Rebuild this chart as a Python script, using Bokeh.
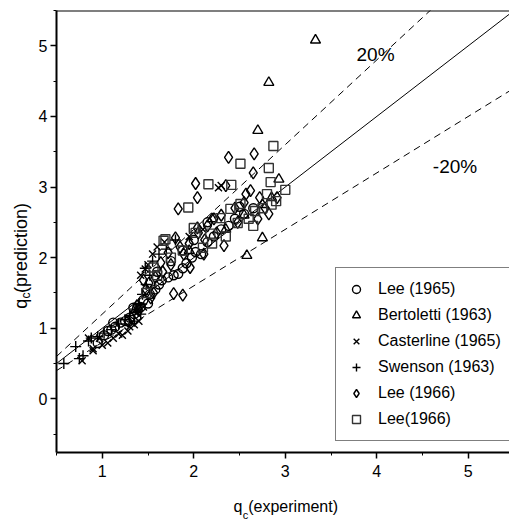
import math
import numpy as np
from bokeh.plotting import figure
from bokeh.layouts import row, column
from bokeh.models import Label, Span, Legend, LegendItem, SingleIntervalTicker, Range1d
from bokeh.embed import file_html
from bokeh.resources import INLINE

# ---- data ----
lee1965_x = [0.95, 1.02, 1.06, 1.10, 1.14, 1.20, 1.25, 1.30, 1.35, 1.38, 1.42, 1.45, 1.50, 1.52, 1.58,
             1.62, 1.65, 1.72, 1.78, 1.83, 1.88, 1.92, 1.98, 2.02, 2.08, 2.15, 2.22, 2.30, 2.38, 2.45,
             2.55, 2.65, 1.75, 1.60, 2.00, 1.88, 2.15, 2.50, 1.34, 1.12]
lee1965_y = [0.79, 0.90, 0.96, 0.98, 1.02, 1.08, 1.10, 1.15, 1.20, 1.28, 1.30, 1.40, 1.35, 1.48, 1.55,
             1.62, 1.68, 1.72, 1.75, 1.77, 1.85, 1.92, 2.00, 2.08, 2.05, 2.22, 2.30, 2.40, 2.45, 2.55,
             2.62, 2.70, 1.95, 1.80, 2.25, 2.10, 2.50, 2.72, 1.29, 1.08]

bert_x = [3.33, 2.82, 2.70, 2.93, 2.75, 2.58, 2.75, 2.55, 2.85, 2.35, 2.20, 1.95]
bert_y = [5.08, 4.48, 3.80, 3.11, 2.28, 2.03, 2.75, 2.60, 2.85, 2.40, 2.55, 2.10]

cast_x = [0.78, 0.90, 0.90, 1.00, 1.06, 1.12, 1.18, 1.22, 1.28, 1.35, 1.40, 1.38, 1.45, 1.47, 1.42,
          1.50, 1.55, 1.60, 1.68, 2.27, 2.30, 1.95, 2.10, 1.30, 0.97, 0.85]
cast_y = [0.54, 0.71, 0.68, 0.76, 0.79, 0.86, 0.92, 0.90, 0.96, 1.05, 1.10, 1.22, 1.30, 1.84, 1.75,
          1.90, 2.05, 2.15, 2.22, 2.99, 3.02, 2.30, 2.40, 1.02, 0.86, 0.86]

swen_x = [0.58, 0.71, 0.75, 0.79, 0.85, 0.88, 0.95, 1.02, 1.10, 1.18, 1.25, 1.30, 1.36, 1.40, 1.44,
          1.48, 1.52, 1.47, 1.55, 1.62, 1.70, 1.80, 1.35, 1.42]
swen_y = [0.50, 0.74, 0.57, 0.61, 0.82, 0.86, 0.88, 0.93, 0.98, 1.06, 1.12, 1.18, 1.27, 1.35, 1.48,
          1.62, 1.75, 1.85, 1.95, 2.05, 2.12, 2.25, 1.10, 1.20]

lee1966a_x = [2.02, 2.04, 1.83, 2.38, 2.35, 2.66, 2.65, 2.57, 2.91, 2.33, 2.11, 1.78, 1.88, 2.04, 1.80,
              1.89, 1.72, 1.64, 1.96, 1.51, 1.56, 1.53, 1.48, 1.45, 1.58, 1.66, 1.75, 1.85, 1.95, 2.05,
              2.15, 2.22, 2.30, 2.45, 2.55, 2.62, 2.72, 2.78, 2.82, 2.48, 2.25, 2.12, 1.40, 1.38, 1.32,
              1.28, 2.70]
lee1966a_y = [3.05, 2.85, 2.69, 3.42, 3.02, 3.47, 3.20, 2.90, 2.85, 2.17, 2.05, 1.49, 1.47, 2.42, 2.28,
              2.05, 2.07, 1.93, 1.86, 1.64, 1.50, 1.43, 1.55, 1.68, 1.72, 1.80, 1.90, 2.15, 2.20, 2.35,
              2.45, 2.55, 2.60, 2.70, 2.78, 2.95, 2.85, 2.70, 2.62, 2.50, 2.35, 2.25, 1.25, 1.32, 1.15,
              1.10, 2.55]

lee1966b_x = [2.16, 1.94, 2.87, 2.51, 2.82, 2.41, 3.00, 2.84, 2.80, 2.51, 2.40, 2.67, 2.48, 2.29, 1.69,
              2.02, 2.10, 1.67, 2.00, 2.18, 1.88, 1.56, 2.60, 2.75, 2.90, 2.35, 2.20, 1.75, 1.60, 2.65,
              1.48, 2.85]
lee1966b_y = [3.04, 2.71, 3.58, 3.33, 3.27, 3.03, 2.96, 3.07, 2.90, 2.76, 2.69, 2.66, 2.49, 2.56, 2.26,
              2.35, 2.14, 2.24, 2.42, 2.34, 2.10, 1.86, 2.55, 2.70, 2.80, 2.30, 2.20, 2.00, 1.75, 2.45,
              1.50, 2.75]

ref_x = np.array([0.5, 5.5])
ref_factors = [1.0, 1.2, 0.8]

series = [
    ("Lee (1965)", lee1965_x, lee1965_y, "circle", 9),
    ("Bertoletti (1963)", bert_x, bert_y, "triangle", 10),
    ("Casterline (1965)", cast_x, cast_y, "x", 10),
    ("Swenson (1963)", swen_x, swen_y, "cross", 11),
    ("Lee (1966)", lee1966a_x, lee1966a_y, "diamond", 12),
    ("Lee(1966)", lee1966b_x, lee1966b_y, "square", 9),
]

FONT = "Liberation Sans"
YW = 32  # width of the y-title strip
XR = Range1d(0.5, 5.45)
YR = Range1d(-0.76, 5.5)

# ---- main plot ----
p = figure(width=509 - YW, height=488, x_range=XR, y_range=YR,
           output_backend="svg", toolbar_location=None,
           min_border_left=56 - YW, min_border_right=0, min_border_top=10, min_border_bottom=36)
p.grid.visible = False
p.outline_line_color = None
p.background_fill_color = "white"

for ax in (p.xaxis[0], p.yaxis[0]):
    ax.ticker = SingleIntervalTicker(interval=1, num_minor_ticks=2)
    ax.axis_line_width = 2
    ax.axis_line_color = "black"
    ax.major_tick_in = 0
    ax.major_tick_out = 6
    ax.minor_tick_in = 0
    ax.minor_tick_out = 3
    ax.major_tick_line_width = 1.5
    ax.minor_tick_line_width = 1
    ax.major_label_text_font = FONT
    ax.major_label_text_font_size = "16px"
    ax.major_label_text_color = "black"
p.xaxis.major_label_standoff = 6
p.yaxis.major_label_standoff = 3

p.add_layout(Span(location=5.5, dimension="width", line_color="black", line_width=2))

# reference lines
p.line(ref_x, ref_x * ref_factors[0], line_color="black", line_width=1)
p.line(ref_x, ref_x * ref_factors[1], line_color="black", line_width=1, line_dash="7 5")
p.line(ref_x, ref_x * ref_factors[2], line_color="black", line_width=1, line_dash="7 5")

items = []
for name, xs, ys, marker, size in series:
    color = "#333333" if marker == "square" else "black"
    r = p.scatter(xs, ys, marker=marker, size=size, fill_color=None,
                  line_color=color, line_width=1.4)
    items.append(LegendItem(label=name, renderers=[r]))

legend = Legend(items=items, location=(279, 11), border_line_color="black", border_line_width=1,
                background_fill_color="white", background_fill_alpha=1.0,
                label_text_font=FONT, label_text_font_size="16px", label_text_color="black",
                padding=10, spacing=4, glyph_height=22, label_height=22, glyph_width=20,
                label_standoff=12, margin=0)
p.add_layout(legend)

# percent annotations
p.add_layout(Label(x=3.986, y=4.88, text="20%", text_align="center", text_baseline="middle",
                   text_font=FONT, text_font_size="19px", text_color="black"))
p.add_layout(Label(x=4.855, y=3.286, text="-20%", text_align="center", text_baseline="middle",
                   text_font=FONT, text_font_size="19px", text_color="black"))

# ---- x axis title strip: q_c(experiment) ----
xt = figure(width=509 - YW, height=34, x_range=XR, y_range=(0, 1), output_backend="svg",
            toolbar_location=None, x_axis_location=None, y_axis_location=None,
            min_border_left=56 - YW, min_border_right=0, min_border_top=0, min_border_bottom=0)
xt.grid.visible = False
xt.outline_line_color = None
xt.add_layout(Label(x=2.434, y=0.47, text="q", text_align="left", text_baseline="alphabetic",
                    text_font=FONT, text_font_size="16px", text_color="black"))
xt.add_layout(Label(x=2.535, y=0.22, text="c", text_align="left", text_baseline="alphabetic",
                    text_font=FONT, text_font_size="11px", text_color="black"))
xt.add_layout(Label(x=2.595, y=0.47, text="(experiment)", text_align="left", text_baseline="alphabetic",
                    text_font=FONT, text_font_size="16px", text_color="black"))

# ---- y axis title strip: q_c(prediction) ----
yt = figure(width=YW, height=522, x_range=(0, YW), y_range=YR, output_backend="svg",
            toolbar_location=None, x_axis_location=None, y_axis_location=None,
            min_border_left=0, min_border_right=0, min_border_top=10, min_border_bottom=70)
yt.grid.visible = False
yt.outline_line_color = None
yt.add_layout(Label(x=20, y=1.275, text="q", angle=math.pi / 2, text_align="left",
                    text_baseline="alphabetic", text_font=FONT, text_font_size="18px", text_color="black"))
yt.add_layout(Label(x=25, y=1.42, text="c", angle=math.pi / 2, text_align="left",
                    text_baseline="alphabetic", text_font=FONT, text_font_size="12px", text_color="black"))
yt.add_layout(Label(x=20, y=1.50, text="(prediction)", angle=math.pi / 2, text_align="left",
                    text_baseline="alphabetic", text_font=FONT, text_font_size="18px", text_color="black"))

layout = row(yt, column(p, xt, spacing=0), spacing=0)
open("out.html", "w").write(file_html(layout, INLINE))
